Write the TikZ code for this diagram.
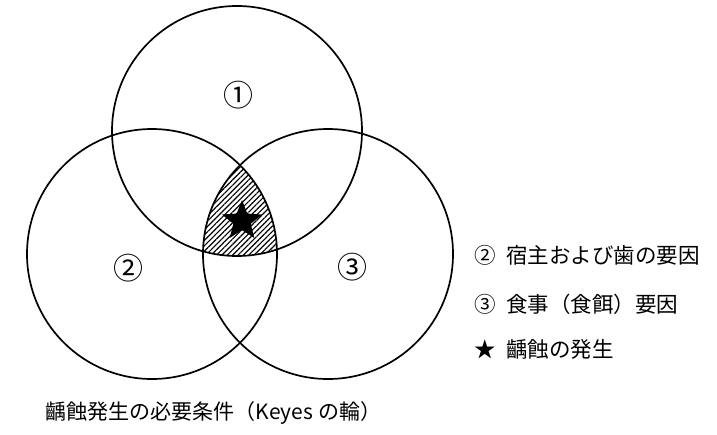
\documentclass[tikz,border=0pt]{standalone}
\usepackage{fontspec}
\setmainfont{Noto Sans CJK JP}
\usetikzlibrary{positioning}
\usetikzlibrary{shapes.geometric}
\usetikzlibrary{patterns.meta}

\begin{document}
\begin{tikzpicture}[x=1pt, y=-1pt, line width=1.7pt]

\tikzstyle{ring} = [draw, circle, minimum size=250pt, inner sep=0pt]
\tikzstyle{number} = [font=\fontsize{30}{30}\selectfont]
\tikzstyle{legend} = [anchor=west, inner sep=0pt, font=\fontsize{21.5}{21.5}\selectfont]

\useasboundingbox (0,0) rectangle (717,434);

\node[ring] (1) at (237,131) {};
\node[ring] (2) at (152,254) {};
\node[ring] (3) at (328,254) {};

% hatched core of the three rings
\begin{scope}
  \clip (1.center) circle (125pt);
  \clip (2.center) circle (125pt);
  \fill[pattern={Lines[angle=45, distance=3.8pt, line width=1.1pt]}] (3.center) circle (125pt);
\end{scope}
\node[star, star points=5, star point ratio=2.3, fill=black, minimum size=42pt, inner sep=0pt] (4) at (242,221) {};

\node[number] (5) at (238,95) {①};
\node[number] (6) at (128,268) {②};
\node[number] (7) at (352,267) {③};

\node[legend] (8) at (474,255) {②\hspace{0.45em}宿主および歯の要因};
\node[legend] (9) at (474,304) {③\hspace{0.45em}食事（食餌）要因};
\node[legend] (10) at (474,349) {★\hspace{0.45em}齲蝕の発生};

\node[legend, font=\fontsize{21}{21}\selectfont] (11) at (45,413) {齲蝕発生の必要条件（Keyes の輪）};
\end{tikzpicture}
\end{document}
